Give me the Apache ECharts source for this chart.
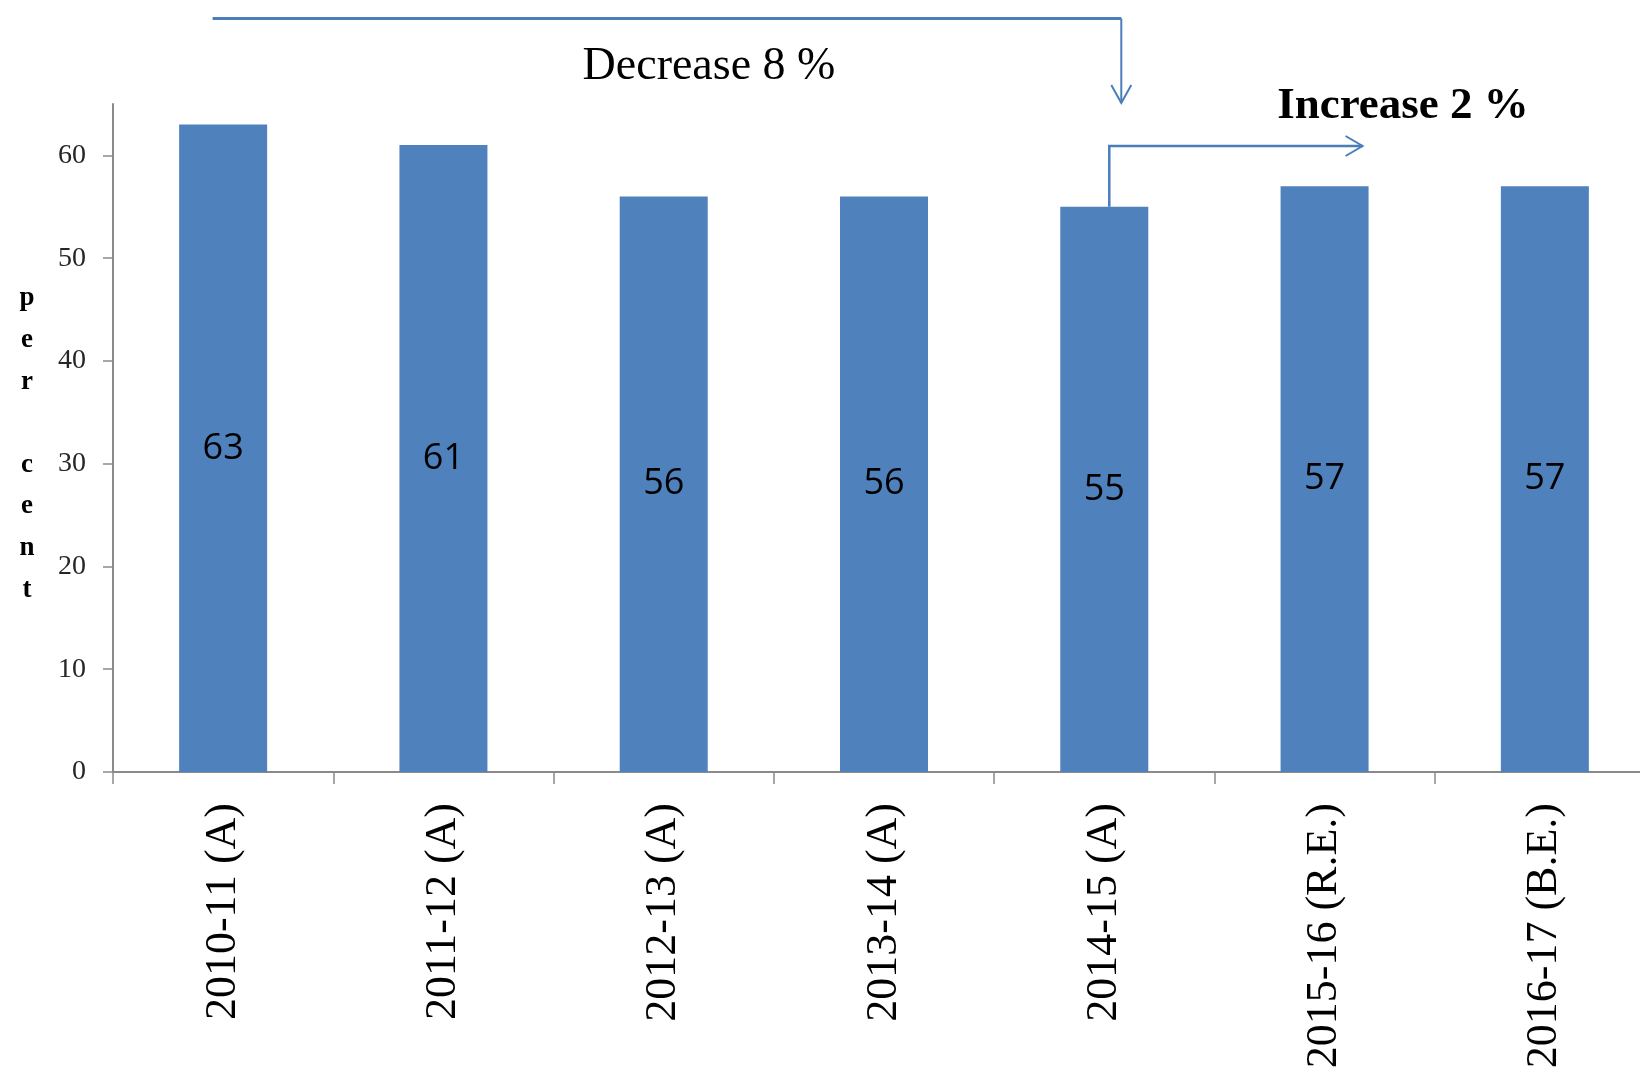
<!DOCTYPE html>
<html>
<head>
<meta charset="utf-8">
<script src="https://cdn.jsdelivr.net/npm/echarts@6/dist/echarts.min.js"></script>
<style>
  html, body { margin: 0; padding: 0; background: #ffffff; }
  #chart { width: 1640px; height: 1074px; }
</style>
</head>
<body>
<div id="chart"></div>
<script>
// Fiscal years on the category axis
const categories = ['2010-11 (A)', '2011-12 (A)', '2012-13 (A)', '2013-14 (A)', '2014-15 (A)', '2015-16 (R.E.)', '2016-17 (B.E.)'];
// Share, in per cent, for each year
const shares = [63, 61, 56, 56, 55, 57, 57];
// Value-axis ticks
const yTickValues = [0, 10, 20, 30, 40, 50, 60];
const yMax = 65;
// Annotation texts
const decreaseText = 'Decrease 8 %';
const increaseText = 'Increase 2 %';

const BAR = '#4F81BD';
const ARROW = '#4A7EBB';
const AXIS = '#8A8A8A';
const SERIF = '"Liberation Serif", "DejaVu Serif", serif';

const chart = echarts.init(document.getElementById('chart'), null, { renderer: 'canvas' });

chart.setOption({
  animation: false,
  backgroundColor: '#ffffff',
  // the plot runs a little past the right edge of the page
  grid: { left: 113, width: 1542, top: 104, bottom: 302, containLabel: false, outerBoundsMode: 'none' },
  xAxis: {
    type: 'category',
    data: categories,
    boundaryGap: true,
    axisLine: { show: true, lineStyle: { color: AXIS, width: 2 } },
    axisTick: { show: true, length: 12, lineStyle: { color: AXIS, width: 1.5 } },
    axisLabel: {
      rotate: 90,
      margin: 31,
      interval: 0,
      color: '#000000',
      fontFamily: SERIF,
      fontSize: 44
    },
    splitLine: { show: false }
  },
  yAxis: {
    type: 'value',
    min: 0,
    max: yMax,
    interval: 10,
    axisLine: { show: true, lineStyle: { color: AXIS, width: 2 } },
    axisTick: { show: true, length: 10, customValues: yTickValues, lineStyle: { color: AXIS, width: 1.5 } },
    axisLabel: {
      customValues: yTickValues,
      margin: 27,
      color: '#262626',
      fontFamily: SERIF,
      fontSize: 28
    },
    splitLine: { show: false }
  },
  series: [{
    type: 'bar',
    data: shares,
    barWidth: 88,
    itemStyle: { color: BAR },
    label: {
      show: true,
      position: 'inside',
      color: '#000000',
      fontFamily: '"Open Sans", "Liberation Sans", sans-serif',
      fontSize: 36
    },
    z: 2
  }]
});

// Arrows and notes, anchored to the bars they refer to
function drawAnnotations() {
  const px = (i, v) => chart.convertToPixel({ xAxisIndex: 0, yAxisIndex: 0 }, [i, v]);
  const c0 = px(0, 0)[0];
  const c4 = px(4, 0)[0];
  const c5 = px(5, 0)[0];
  const bar5Top = px(4, shares[4])[1];

  const topY = 18.5;
  const downX = c4 + 17;
  const downTip = 103;
  const upX = c4 + 5;
  const midY = 146;
  const rightTip = c5 + 38;

  const line = (pts, w) => ({
    type: 'polyline',
    shape: { points: pts },
    style: { stroke: ARROW, lineWidth: w, fill: null, lineJoin: 'miter' },
    z: 10
  });

  chart.setOption({
    graphic: [
      line([[c0 - 10.5, topY], [downX, topY]], 3),
      line([[downX, topY], [downX, downTip]], 2),
      line([[downX - 10, downTip - 18], [downX, downTip], [downX + 10, downTip - 18]], 2),
      line([[upX, bar5Top], [upX, midY], [rightTip, midY]], 2.5),
      line([[rightTip - 17, midY - 10], [rightTip, midY], [rightTip - 17, midY + 10]], 2),
      {
        type: 'text',
        x: 709, y: 67,
        style: {
          text: decreaseText,
          fill: '#000000',
          font: '46px ' + SERIF,
          align: 'center',
          verticalAlign: 'middle'
        },
        z: 10
      },
      {
        type: 'text',
        x: 1403, y: 106,
        style: {
          text: increaseText,
          fill: '#000000',
          font: 'bold 45px ' + SERIF,
          align: 'center',
          verticalAlign: 'middle'
        },
        z: 10
      },
      {
        type: 'text',
        x: 27, y: 444,
        style: {
          text: 'p\ne\nr\n\nc\ne\nn\nt',
          fill: '#000000',
          font: 'bold 27px ' + SERIF,
          lineHeight: 41.6,
          align: 'center',
          verticalAlign: 'middle'
        },
        z: 10
      }
    ]
  });
}

drawAnnotations();
</script>
</body>
</html>
